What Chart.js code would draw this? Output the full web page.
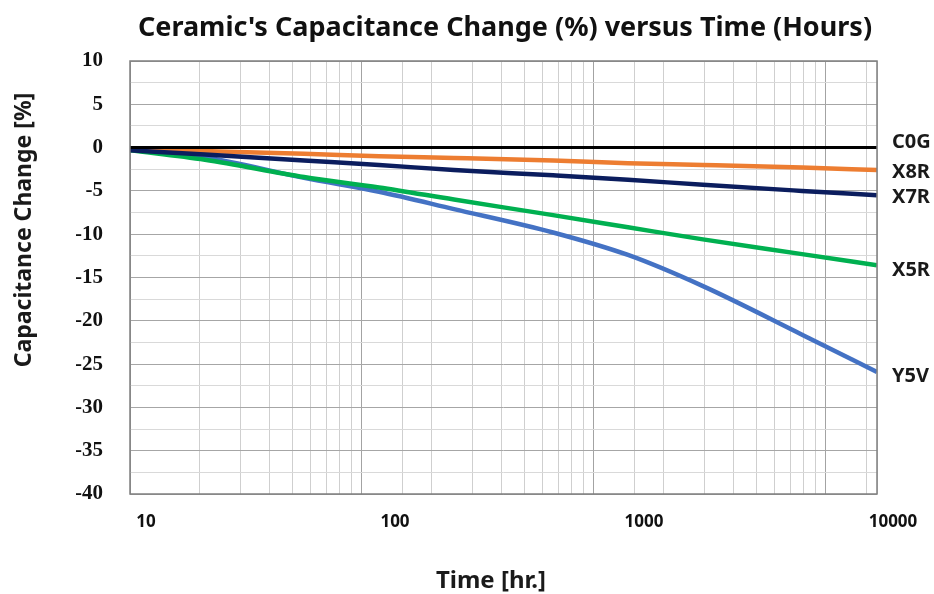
<!DOCTYPE html>
<html>
<head>
<meta charset="utf-8">
<script src="https://cdn.jsdelivr.net/npm/chart.js@4.4.0/dist/chart.umd.min.js"></script>
<style>
  html, body { margin: 0; padding: 0; background: #fff; }
  #wrap { width: 934px; height: 594px; }
</style>
</head>
<body>
<div id="wrap"><canvas id="capChart" width="934" height="594"></canvas></div>
<script>
// Time (hours) and capacitance change (%)
const hours = [10, 20, 50, 100, 200, 500, 1000, 2000, 5000, 10000];
const c0g = [0, 0, 0, 0, 0, 0, 0, 0, 0, 0];
const x8r = [-0.2, -0.4, -0.7, -1.0, -1.2, -1.5, -1.8, -2.0, -2.3, -2.6];
const x7r = [-0.3, -0.8, -1.5, -2.0, -2.6, -3.2, -3.7, -4.3, -5.0, -5.5];
const x5r = [-0.3, -1.4, -3.4, -4.6, -6.0, -7.8, -9.2, -10.6, -12.3, -13.6];
const y5v = [-0.2, -1.1, -3.5, -5.1, -7.1, -9.8, -12.4, -16.0, -21.6, -25.9];

const xTicks = [10, 100, 1000, 10000];
const yMin = -40;
const yMax = 10;

// the original's background grid decades don't line up with its labels,
// so the grid comes from a second log axis that runs a bit further
const gridMax = 16600;

const FONT = 'Noto Sans';

function toPoints(vals) {
    return hours.map((h, i) => ({ x: h, y: vals[i] }));
}

// small vertical nudges for the series names at the right end
const labelNudge = [-5, 2, 2, 5, 4];

const annotate = {
    id: 'annotate',
    afterDatasetsDraw(chart) {
        const { ctx, chartArea } = chart;
        ctx.save();

        // plot frame
        ctx.strokeStyle = '#7f7f7f';
        ctx.lineWidth = 1.5;
        ctx.strokeRect(chartArea.left, chartArea.top,
            chartArea.right - chartArea.left, chartArea.bottom - chartArea.top);

        // series names next to the line ends
        ctx.fillStyle = '#1a1a1a';
        ctx.font = 'bold 20px "' + FONT + '"';
        ctx.textAlign = 'left';
        ctx.textBaseline = 'middle';
        chart.data.datasets.forEach((ds, i) => {
            const pts = chart.getDatasetMeta(i).data;
            const last = pts[pts.length - 1];
            ctx.fillText(ds.label, chartArea.right + 15, last.y + labelNudge[i]);
        });

        // axis titles
        ctx.font = 'bold 24px "' + FONT + '"';
        ctx.textAlign = 'center';
        ctx.fillText('Time [hr.]', 491, 581);
        ctx.font = 'bold 23px "' + FONT + '"';
        ctx.translate(24, 230);
        ctx.rotate(-Math.PI / 2);
        ctx.fillText('Capacitance Change [%]', 0, 0);
        ctx.restore();
    }
};

new Chart(document.getElementById('capChart'), {
    type: 'line',
    data: {
        datasets: [
            { label: 'C0G', data: toPoints(c0g), borderColor: '#000000', borderWidth: 3, order: 1 },
            { label: 'X8R', data: toPoints(x8r), borderColor: '#ED7D31', borderWidth: 4.5, order: 3 },
            { label: 'X7R', data: toPoints(x7r), borderColor: '#0b1d5e', borderWidth: 4.5, order: 2 },
            { label: 'X5R', data: toPoints(x5r), borderColor: '#00B050', borderWidth: 4.5, order: 4 },
            { label: 'Y5V', data: toPoints(y5v), borderColor: '#4472C4', borderWidth: 4.5, order: 5 }
        ]
    },
    options: {
        responsive: false,
        animation: false,
        layout: { padding: { left: 76, right: 0, top: 0, bottom: 0 } },
        elements: {
            point: { radius: 0 },
            line: { cubicInterpolationMode: 'monotone', borderCapStyle: 'butt' }
        },
        plugins: {
            legend: { display: false },
            tooltip: { enabled: false },
            title: {
                display: true,
                text: "Ceramic's Capacitance Change (%) versus Time (Hours)",
                color: '#111',
                font: { family: FONT, size: 27, weight: 'bold', lineHeight: 1.2 },
                padding: { top: 12, bottom: 16.6 }
            }
        },
        scales: {
            x: {
                type: 'logarithmic',
                position: 'bottom',
                min: xTicks[0],
                max: xTicks[xTicks.length - 1],
                grid: { display: false, drawTicks: false },
                border: { display: false },
                afterBuildTicks: (axis) => { axis.ticks = xTicks.map(v => ({ value: v })); },
                afterFit: (axis) => { axis.height = 100; },
                ticks: {
                    autoSkip: false,
                    maxRotation: 0,
                    padding: 18,
                    labelOffset: 16,
                    color: '#111',
                    font: { family: FONT, size: 17, weight: 'bold' },
                    callback: (v) => String(v)
                }
            },
            xGrid: {
                type: 'logarithmic',
                position: 'bottom',
                min: 10,
                max: gridMax,
                border: { display: false },
                grid: {
                    drawTicks: false,
                    lineWidth: 1,
                    color: (c) => (c.tick && c.tick.major) ? '#a3a3a3' : '#cfcfcf'
                },
                ticks: { display: false, autoSkip: false },
                afterFit: (axis) => { axis.height = 0; }
            },
            y: {
                min: yMin,
                max: yMax,
                border: { display: false },
                grid: {
                    drawTicks: false,
                    lineWidth: 1,
                    color: (c) => (c.tick && c.tick.value % 5 === 0) ? '#a6a6a6' : '#d9d9d9'
                },
                afterFit: (axis) => { axis.width = 54; },
                ticks: {
                    stepSize: 2.5,
                    autoSkip: false,
                    padding: 27,
                    color: '#111',
                    font: { family: 'Liberation Serif', size: 21, weight: 'bold' },
                    callback: (v) => (v % 5 === 0 ? String(v) : '')
                }
            },
            yRight: {
                position: 'right',
                grid: { display: false },
                border: { display: false },
                ticks: { display: false },
                afterFit: (axis) => { axis.width = 57; }
            }
        }
    },
    plugins: [annotate]
});
</script>
</body>
</html>
